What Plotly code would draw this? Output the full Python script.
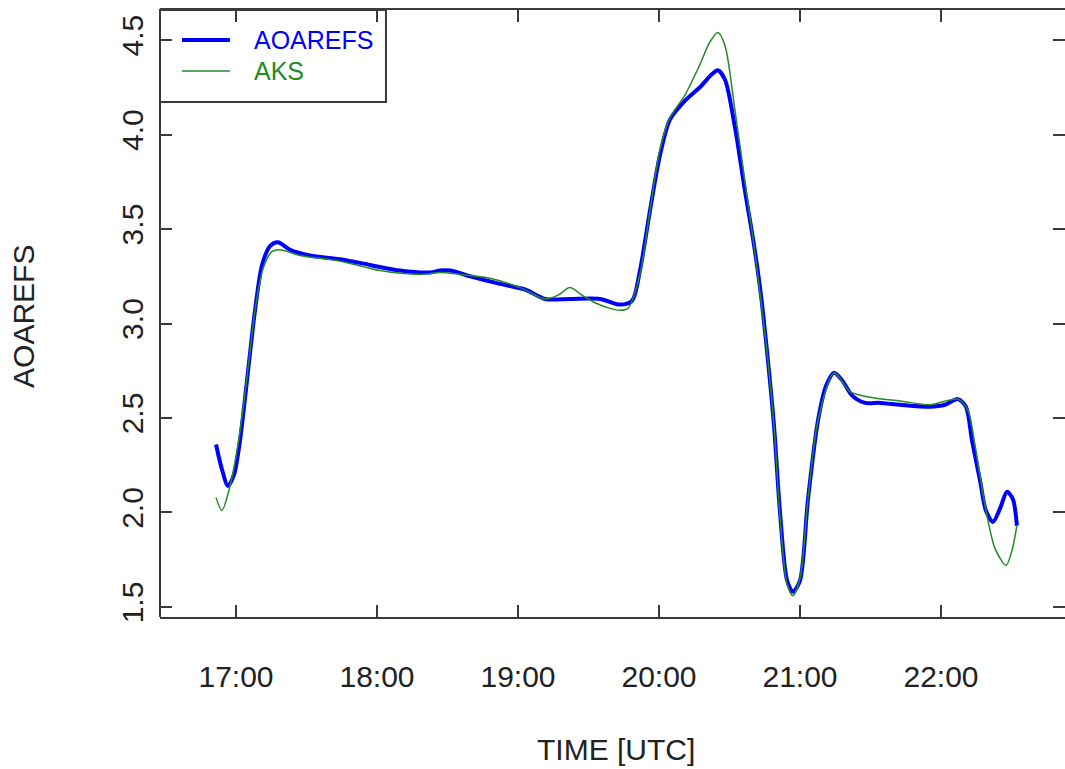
import plotly.graph_objects as go

DAY = "2000-01-01 "

aoa_time = ["16:51:30", "16:54:00", "16:56:36", "16:59:09", "17:01:42", "17:04:42", "17:08:06",
            "17:11:06", "17:14:30", "17:17:54", "17:23:00", "17:31:30", "17:44:18", "17:57:00",
            "18:09:48", "18:22:36", "18:26:48", "18:31:06", "18:39:36", "18:52:18", "19:03:00",
            "19:11:30", "19:22:06", "19:34:54", "19:43:24", "19:48:30", "19:51:54", "19:56:12",
            "20:00:24", "20:04:42", "20:11:06", "20:17:24", "20:22:36", "20:25:06", "20:28:06",
            "20:32:18", "20:36:36", "20:40:00", "20:43:24", "20:46:24", "20:49:00", "20:51:30",
            "20:54:30", "20:57:00", "21:00:00", "21:03:24", "21:07:42", "21:11:06", "21:14:30",
            "21:17:54", "21:22:06", "21:27:42", "21:34:00", "21:42:36", "21:55:18", "22:01:42",
            "22:07:12", "22:10:36", "22:13:12", "22:16:36", "22:19:06", "22:22:06", "22:25:06",
            "22:28:06", "22:30:36", "22:32:18"]
aoa_val = [2.36, 2.23, 2.14, 2.20, 2.38, 2.70, 3.07,
           3.31, 3.41, 3.43, 3.39, 3.36, 3.34, 3.31,
           3.28, 3.27, 3.28, 3.28, 3.25, 3.21, 3.18,
           3.13, 3.13, 3.13, 3.10, 3.12, 3.28, 3.60,
           3.89, 4.08, 4.18, 4.25, 4.32, 4.34, 4.29,
           4.04, 3.70, 3.45, 3.15, 2.80, 2.45, 2.00,
           1.64, 1.58, 1.64, 2.07, 2.49, 2.67, 2.74,
           2.70, 2.62, 2.58, 2.58, 2.57, 2.56, 2.57,
           2.60, 2.56, 2.38, 2.17, 2.01, 1.95, 2.02,
           2.11, 2.07, 1.93]

aks_time = ["16:51:30", "16:54:00", "16:57:27", "17:00:51", "17:04:15", "17:08:06", "17:11:30",
            "17:15:18", "17:18:42", "17:27:14", "17:44:18", "18:01:17", "18:18:18", "18:26:48",
            "18:35:19", "18:48:05", "19:00:51", "19:11:30", "19:17:02", "19:22:06", "19:27:13",
            "19:32:45", "19:39:09", "19:43:24", "19:46:48", "19:51:54", "19:56:12", "20:00:24",
            "20:04:42", "20:11:06", "20:17:24", "20:21:40", "20:25:06", "20:28:06", "20:32:18",
            "20:36:36", "20:40:00", "20:43:24", "20:46:24", "20:49:00", "20:51:30", "20:54:30",
            "20:57:00", "21:00:00", "21:03:24", "21:07:42", "21:14:30", "21:21:17", "21:29:48",
            "21:42:36", "21:55:18", "22:07:12", "22:11:28", "22:14:26", "22:18:43", "22:22:58",
            "22:27:40", "22:30:13", "22:32:18"]
aks_val = [2.08, 2.01, 2.14, 2.36, 2.67, 3.07, 3.29,
           3.38, 3.39, 3.36, 3.33, 3.28, 3.26, 3.27,
           3.26, 3.24, 3.19, 3.13, 3.15, 3.19, 3.15,
           3.11, 3.08, 3.07, 3.08, 3.26, 3.60, 3.92,
           4.09, 4.21, 4.37, 4.49, 4.54, 4.47, 4.13,
           3.75, 3.45, 3.12, 2.80, 2.45, 1.98,
           1.62, 1.56, 1.65, 2.07, 2.49, 2.74, 2.64, 2.61,
           2.59, 2.57, 2.60, 2.54, 2.36, 2.04, 1.81,
           1.72, 1.80, 1.93]

series_names = ["AOAREFS", "AKS"]
series_colors = ["#0000FF", "#228B22"]
series_widths = [4, 1.5]

x_tick_times = ["17:00", "18:00", "19:00", "20:00", "21:00", "22:00"]
y_tick_vals = [1.5, 2.0, 2.5, 3.0, 3.5, 4.0, 4.5]

FONT = "Liberation Sans, Arial, sans-serif"
AX = "#3a3a3a"
FS = 30

fig = go.Figure()
for name, times, vals, col, w in zip(series_names, [aoa_time, aks_time], [aoa_val, aks_val],
                                     series_colors, series_widths):
    fig.add_trace(go.Scatter(
        x=[DAY + t for t in times], y=vals, mode="lines", name=name, showlegend=False,
        line=dict(color=col, width=w, shape="spline", smoothing=0.8)))

# legend box (R style), drawn under axes so the inner ticks show through
shapes = [
    dict(type="rect", xref="paper", yref="paper", x0=0, x1=0.2497, y0=0.8484, y1=1,
         line=dict(color=AX, width=2), fillcolor="white", layer="below"),
    # left frame line (right side of the frame lies outside the picture)
    dict(type="line", xref="paper", yref="paper", x0=0, x1=0, y0=0, y1=1,
         line=dict(color=AX, width=2), layer="above"),
]
annotations = []
leg_y = [0.9506, 0.8995]
for name, col, w, yy in zip(series_names, series_colors, series_widths, leg_y):
    shapes.append(dict(type="line", xref="paper", yref="paper", x0=0.0243, x1=0.0773,
                       y0=yy, y1=yy, line=dict(color=col, width=w), layer="above"))
    annotations.append(dict(text=name, xref="paper", yref="paper", x=0.1017, y=yy,
                            xanchor="left", yanchor="middle", showarrow=False,
                            font=dict(size=25, color=col)))

annotations += [
    dict(text="AOAREFS", xref="paper", yref="paper", x=-0.1503, y=0.4959,
         xanchor="center", yanchor="middle", textangle=-90, showarrow=False,
         font=dict(size=FS)),
    dict(text="TIME [UTC]", xref="paper", yref="paper", x=0.5039, y=-0.219,
         xanchor="center", yanchor="middle", showarrow=False,
         font=dict(size=FS)),
]

fig.update_layout(
    width=1065, height=769,
    margin=dict(l=160, r=0, t=10, b=152),
    paper_bgcolor="white", plot_bgcolor="white",
    font=dict(family=FONT, size=FS, color="#222"),
    showlegend=False,
    xaxis=dict(
        type="date",
        range=[DAY + "16:27:40", DAY + "22:52:46"],
        tickvals=[DAY + t for t in x_tick_times],
        ticktext=x_tick_times,
        ticks="inside", ticklen=12, tickwidth=2, tickcolor=AX,
        showline=True, linecolor=AX, linewidth=2, mirror="ticks",
        showgrid=False, zeroline=False,
        ticklabelstandoff=32,
        tickfont=dict(size=FS),
    ),
    yaxis=dict(
        range=[1.447, 4.659],
        tickvals=y_tick_vals,
        ticktext=[f"{v:.1f}" for v in y_tick_vals],
        tickangle=-90,
        ticks="inside", ticklen=12, tickwidth=2, tickcolor=AX,
        showline=False, mirror="ticks",
        showgrid=False, zeroline=False,
        ticklabelstandoff=10,
        tickfont=dict(size=FS),
    ),
    shapes=shapes,
    annotations=annotations,
)

fig.write_html("out.html")
